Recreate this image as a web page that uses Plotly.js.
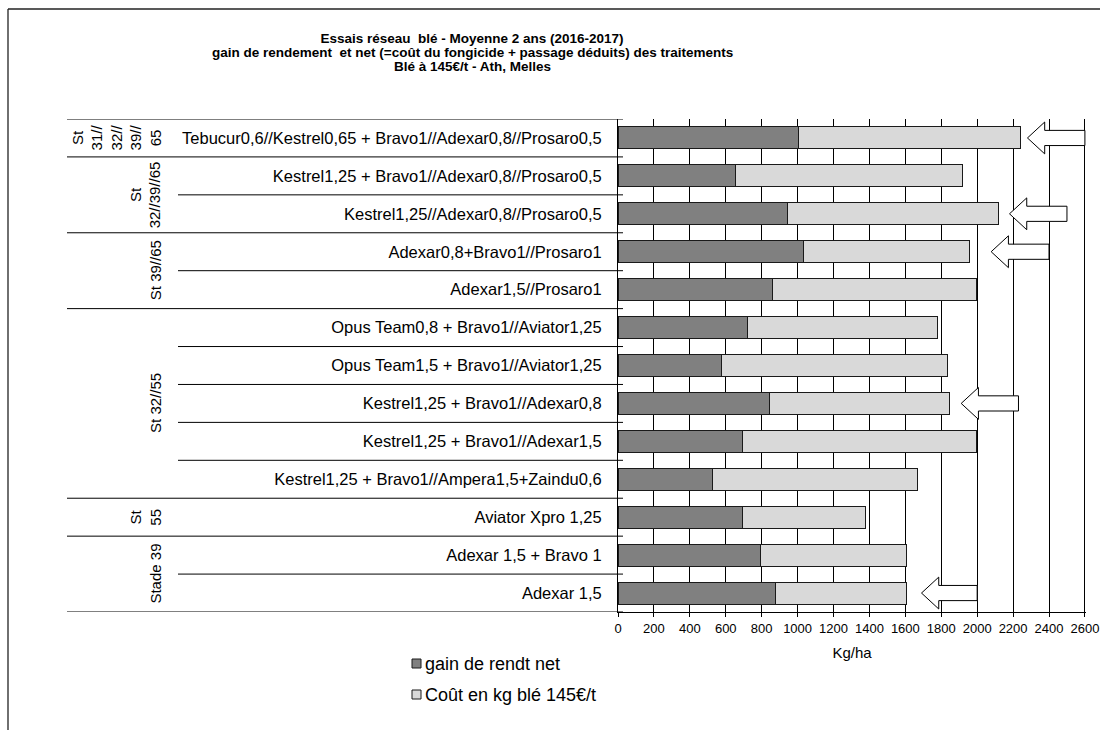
<!DOCTYPE html>
<html>
<head>
<meta charset="utf-8">
<script src="https://cdn.plot.ly/plotly-3.0.1.min.js"></script>
<style>
html,body{margin:0;padding:0;background:#fff;}
#chart{width:1100px;height:730px;}
</style>
</head>
<body>
<div id="chart"></div>
<script>
// ---------- DATA ----------
const categories = [
  "Tebucur0,6//Kestrel0,65 + Bravo1//Adexar0,8//Prosaro0,5",
  "Kestrel1,25 + Bravo1//Adexar0,8//Prosaro0,5",
  "Kestrel1,25//Adexar0,8//Prosaro0,5",
  "Adexar0,8+Bravo1//Prosaro1",
  "Adexar1,5//Prosaro1",
  "Opus Team0,8 + Bravo1//Aviator1,25",
  "Opus Team1,5 + Bravo1//Aviator1,25",
  "Kestrel1,25 + Bravo1//Adexar0,8",
  "Kestrel1,25 + Bravo1//Adexar1,5",
  "Kestrel1,25 + Bravo1//Ampera1,5+Zaindu0,6",
  "Aviator Xpro 1,25",
  "Adexar 1,5 + Bravo 1",
  "Adexar 1,5"
];
const gainNet = [1005, 657, 942, 1033, 859, 720, 574, 846, 694, 528, 694, 791, 879];
const costKg  = [1239, 1263, 1178, 926, 1135, 1059, 1261, 1002, 1300, 1140, 684, 814, 726];
const seriesNames = ["gain de rendt net", "Coût en kg blé 145€/t"];

const groupLabels = ["St<br>31//<br>32//<br>39//<br>65", "St<br>32//39//65", "St 39//65", "St 32//55", "St<br>55", "Stade 39"];
const groupSizes  = [1, 2, 2, 5, 1, 2];

const arrowRows = ["Tebucur0,6//Kestrel0,65 + Bravo1//Adexar0,8//Prosaro0,5",
                   "Kestrel1,25//Adexar0,8//Prosaro0,5",
                   "Adexar0,8+Bravo1//Prosaro1",
                   "Kestrel1,25 + Bravo1//Adexar0,8",
                   "Adexar 1,5"];
const arrowFrom = [2600, 2500, 2400, 2230, 2000];
const arrowTo   = [2280, 2180, 2078, 1911, 1690];

const xTicks = [0,200,400,600,800,1000,1200,1400,1600,1800,2000,2200,2400,2600];

const titleLines = ["Essais réseau  blé - Moyenne 2 ans (2016-2017)",
                    "gain de rendement  et net (=coût du fongicide + passage déduits) des traitements",
                    "Blé à 145€/t - Ath, Melles"];

// ---------- STYLE / GEOMETRY ----------
const FONT = "Liberation Sans, Arial, Helvetica, sans-serif";
const W = 1100, H = 730, ML = 618, MR = 14, MT = 119, MB = 118;
const PW = W - ML - MR, PH = H - MT - MB;
const X = px => (px - ML) / PW;
const Y = py => (H - MB - py) / PH;
const colors = ["#808080", "#d9d9d9"];
const XMAX = 2606;

const traces = [
  {type: "bar", orientation: "h", name: seriesNames[0], y: categories, x: gainNet,
   marker: {color: colors[0], line: {color: "#1a1a1a", width: 1}}, hoverinfo: "x+y"},
  {type: "bar", orientation: "h", name: seriesNames[1], y: categories, x: costKg,
   marker: {color: colors[1], line: {color: "#1a1a1a", width: 1}}, hoverinfo: "x+y"}
];

const shapes = [];
const annotations = [];

// outer border (left + top)
shapes.push({type: "line", xref: "paper", yref: "paper", x0: X(8), x1: X(1110), y0: Y(9), y1: Y(9), line: {color: "#222", width: 1.3}});
shapes.push({type: "line", xref: "paper", yref: "paper", x0: X(8), x1: X(8), y0: Y(9), y1: Y(740), line: {color: "#222", width: 1.3}});

// group boundaries
const groupBounds = new Set([-0.5]);
let acc = 0;
groupSizes.forEach(s => { acc += s; groupBounds.add(acc - 0.5); });
for (let k = 0; k <= categories.length; k++) {
  const yb = k - 0.5;
  const isGroup = groupBounds.has(yb);
  shapes.push({type: "line", xref: "paper", yref: "y", x0: X(isGroup ? 67 : 178), x1: X(623), y0: yb, y1: yb,
               line: {color: "#000", width: 1}});
}

// group labels
acc = 0;
groupLabels.forEach((lab, i) => {
  const c = acc + (groupSizes[i] - 1) / 2;
  acc += groupSizes[i];
  annotations.push({xref: "paper", yref: "y", x: X(166), y: c, xanchor: "right", yanchor: "middle",
    text: lab, textangle: -90, showarrow: false, align: "center",
    font: {family: FONT, size: 15, color: "#000"}});
});

// block arrows
const headLen = 96, headHalf = 0.42, shaftHalf = 0.2;
arrowRows.forEach((cat, i) => {
  const r = categories.indexOf(cat);
  const t = arrowTo[i], f = arrowFrom[i], hb = t + headLen;
  const path = `M${t},${r} L${hb},${r - headHalf} L${hb},${r - shaftHalf} L${f},${r - shaftHalf} L${f},${r + shaftHalf} L${hb},${r + shaftHalf} L${hb},${r + headHalf} Z`;
  shapes.push({type: "path", xref: "x", yref: "y", path: path, fillcolor: "#fff",
               line: {color: "#000", width: 1}, layer: "above"});
});

// title lines 2 and 3 (line 1 is layout.title)
const titleCx = 472, titleY = [38, 52, 66];
[1, 2].forEach(i => {
  annotations.push({xref: "paper", yref: "paper", x: X(titleCx), y: Y(titleY[i]), xanchor: "center", yanchor: "middle",
    text: "<b>" + titleLines[i] + "</b>", showarrow: false, font: {family: FONT, size: 13.5, color: "#000"}});
});

// manual legend
const legY = [663.5, 694.5];
seriesNames.forEach((nm, i) => {
  shapes.push({type: "rect", xref: "paper", yref: "paper", x0: X(412), x1: X(421), y0: Y(legY[i] - 4.5), y1: Y(legY[i] + 4.5),
               fillcolor: colors[i], line: {color: "#1a1a1a", width: 1}});
  annotations.push({xref: "paper", yref: "paper", x: X(423), y: Y(legY[i]), xanchor: "left", yanchor: "middle",
    text: nm, showarrow: false, font: {family: FONT, size: 18, color: "#000"}});
});

const layout = {
  width: W, height: H,
  margin: {l: ML, r: MR, t: MT, b: MB, pad: 0},
  paper_bgcolor: "#fff", plot_bgcolor: "#fff",
  font: {family: FONT, color: "#000"},
  barmode: "stack", bargap: 0.42,
  showlegend: false,
  title: {text: "<b>" + titleLines[0] + "</b>",
          xref: "container", yref: "container", x: titleCx / W, xanchor: "center", y: 1 - titleY[0] / H, yanchor: "middle",
          font: {family: FONT, size: 13.5, color: "#000"}},
  xaxis: {range: [0, XMAX], tickvals: xTicks, ticktext: xTicks.map(String),
          showgrid: true, gridcolor: "#000", gridwidth: 1, zeroline: false,
          showline: true, linecolor: "#000", linewidth: 1,
          ticks: "outside", ticklen: 4, tickcolor: "#000", tickwidth: 1,
          ticklabeloverflow: "allow",
          tickfont: {family: FONT, size: 13, color: "#000"},
          title: {text: "Kg/ha", font: {family: FONT, size: 15, color: "#000"}, standoff: 12},
          fixedrange: true},
  yaxis: {type: "category", categoryorder: "array", categoryarray: categories,
          range: [categories.length - 0.5, -0.5],
          showgrid: false, zeroline: false, showline: true, linecolor: "#000", linewidth: 1,
          ticks: "", ticklabelstandoff: 12,
          tickfont: {family: FONT, size: 16.5, color: "#000"}, fixedrange: true},
  shapes: shapes,
  annotations: annotations
};

Plotly.newPlot("chart", traces, layout, {displayModeBar: false, staticPlot: true});
</script>
</body>
</html>
